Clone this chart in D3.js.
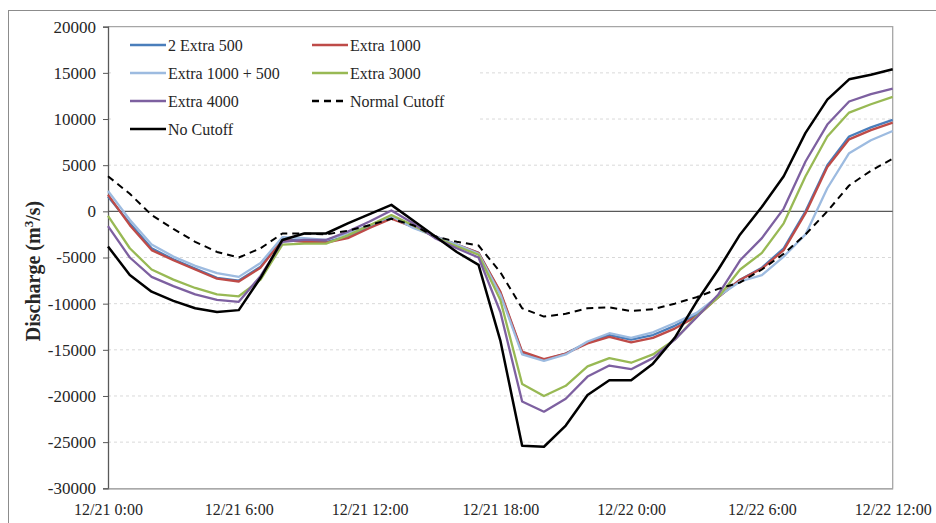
<!DOCTYPE html>
<html>
<head>
<meta charset="utf-8">
<script src="https://cdn.jsdelivr.net/npm/d3@7"></script>
<style>
  body { margin: 0; background: #fff; }
  svg { display: block; }
  text { font-family: "Liberation Serif", "Times New Roman", serif; fill: #262626; }
</style>
</head>
<body>
<svg id="chart" width="936" height="523"></svg>
<script>
// Hours since 12/21 0:00, one sample per hour
const hours = [0,1,2,3,4,5,6,7,8,9,10,11,12,13,14,15,16,17,18,19,20,21,22,23,24,25,26,27,28,29,30,31,32,33,34,35,36];

const extra500x2 = [1600,-1300,-4000,-5200,-6200,-7200,-7500,-6000,-3000,-3200,-3300,-2700,-1700,-700,-1700,-2700,-3600,-4500,-8800,-15300,-16100,-15400,-14200,-13400,-13900,-13400,-12400,-11200,-9300,-7400,-6100,-4000,0,5000,8100,9100,9900];
const extra1000 = [1800,-1500,-4200,-5300,-6300,-7300,-7600,-6100,-3100,-3300,-3400,-2900,-1800,-800,-1700,-2700,-3600,-4500,-8700,-15200,-16000,-15400,-14300,-13600,-14200,-13700,-12700,-11400,-9300,-7400,-6200,-4200,-200,4800,7800,8800,9600];
const extra1000p500 = [2200,-900,-3600,-4900,-5900,-6700,-7100,-5600,-2800,-2900,-3100,-2400,-1500,-500,-1800,-2700,-3600,-4600,-9000,-15500,-16200,-15500,-14100,-13200,-13700,-13100,-12100,-11000,-9200,-7600,-6900,-4900,-2500,2500,6300,7700,8700];
const extra3000 = [-500,-4000,-6300,-7400,-8300,-9000,-9200,-7400,-3600,-3500,-3500,-2600,-1500,-400,-1500,-2800,-3800,-4700,-9600,-18700,-20000,-18900,-16800,-15900,-16400,-15500,-13900,-11400,-9300,-6300,-4500,-1300,3800,8100,10700,11600,12400];
const extra4000 = [-1600,-5000,-7100,-8100,-9000,-9600,-9800,-7000,-3300,-3100,-3100,-2200,-1100,100,-1300,-2900,-4000,-5000,-10900,-20600,-21700,-20300,-17900,-16700,-17100,-15900,-13900,-11500,-9000,-5300,-2900,300,5400,9400,11900,12700,13300];
const normalCutoff = [3800,1900,-400,-1900,-3300,-4400,-5000,-4000,-2400,-2400,-2500,-2100,-1500,-800,-1500,-2700,-3300,-3700,-6600,-10500,-11400,-11100,-10500,-10400,-10800,-10600,-10000,-9300,-8400,-7700,-6300,-4600,-2500,0,2800,4400,5700];
const noCutoff = [-3800,-6900,-8700,-9700,-10500,-10900,-10700,-7200,-3100,-2400,-2400,-1300,-300,700,-1000,-2700,-4400,-5800,-14000,-25400,-25500,-23200,-19900,-18300,-18300,-16500,-13700,-9800,-6300,-2500,500,3800,8500,12100,14300,14800,15400];

const xTickHours = [0,6,12,18,24,30,36];
const xTickLabels = ["12/21 0:00","12/21 6:00","12/21 12:00","12/21 18:00","12/22 0:00","12/22 6:00","12/22 12:00"];
const yTicks = [-30000,-25000,-20000,-15000,-10000,-5000,0,5000,10000,15000,20000];

const seriesNames = ["2 Extra 500","Extra 1000","Extra 1000 + 500","Extra 3000","Extra 4000","Normal Cutoff","No Cutoff"];
const seriesValues = [extra500x2, extra1000, extra1000p500, extra3000, extra4000, normalCutoff, noCutoff];
const seriesColors = ["#4a7ebb","#be4b48","#9dbbe0","#98b954","#7d60a0","#000000","#000000"];
const seriesWidths = [2.3,2.3,2.3,2.3,2.3,2,2.5];
const seriesDash = [null,null,null,null,null,"7,5",null];

const svg = d3.select("#chart");
const plotLeft = 108, plotRight = 892.7, plotTop = 26.7, plotBottom = 488.3;

const x = d3.scaleLinear().domain([0, 36]).range([plotLeft, plotRight]);
const y = d3.scaleLinear().domain([-30000, 20000]).range([plotBottom, plotTop]);

// Outer frame
svg.append("rect").attr("x", 8.5).attr("y", 10.5).attr("width", 1000).attr("height", 1000)
  .attr("fill", "none").attr("stroke", "#8c8c8c").attr("stroke-width", 1);

// Horizontal gridlines
svg.append("g").selectAll("line")
  .data(yTicks.filter(v => v !== 0 && v !== 20000 && v !== -30000))
  .join("line")
  .attr("x1", plotLeft).attr("x2", plotRight)
  .attr("y1", d => y(d)).attr("y2", d => y(d))
  .attr("stroke", "#d9d9d9").attr("stroke-width", 1).attr("stroke-dasharray", "3,3");

// Plot frame (top and right)
svg.append("path")
  .attr("d", `M${plotLeft},${plotTop}H${plotRight}V${plotBottom}`)
  .attr("fill", "none").attr("stroke", "#a6a6a6").attr("stroke-width", 1.3);

// Legend background (covers the gridlines behind it)
svg.append("rect").attr("x", 112).attr("y", 30).attr("width", 365).attr("height", 118).attr("fill", "#fff");

// Zero line
svg.append("line").attr("x1", plotLeft).attr("x2", plotRight).attr("y1", y(0)).attr("y2", y(0))
  .attr("stroke", "#595959").attr("stroke-width", 1.2);

// Y axis
const yAxis = d3.axisLeft(y).tickValues(yTicks).tickSize(5).tickPadding(7).tickFormat(d3.format("d"));
const gy = svg.append("g").attr("transform", `translate(${plotLeft},0)`).call(yAxis);
gy.select(".domain").attr("stroke", "#595959").attr("stroke-width", 1.3);
gy.selectAll(".tick line").attr("stroke", "#595959");
gy.selectAll(".tick text").attr("font-size", "17px").attr("fill", "#262626")
  .attr("font-family", "'Liberation Serif', serif").text(d => d);

// X axis
const xAxis = d3.axisBottom(x).tickValues(xTickHours).tickSize(0).tickPadding(15)
  .tickFormat((d, i) => xTickLabels[i]);
const gx = svg.append("g").attr("transform", `translate(0,${plotBottom})`).call(xAxis);
gx.select(".domain").attr("stroke", "#8c8c8c").attr("stroke-width", 1.3);
gx.selectAll(".tick text").attr("font-size", "16px").attr("fill", "#262626")
  .attr("font-family", "'Liberation Serif', serif");

// Y axis title
const yTitle = svg.append("text")
  .attr("transform", `translate(40,271) rotate(-90)`)
  .attr("text-anchor", "middle")
  .attr("font-size", "20px").attr("font-weight", "bold");
yTitle.append("tspan").text("Discharge (m");
yTitle.append("tspan").attr("baseline-shift", "super").attr("font-size", "13px").text("3");
yTitle.append("tspan").text("/s)");

// Series lines
const line = d3.line().x((d, i) => x(hours[i])).y(d => y(d));
const gLines = svg.append("g").attr("fill", "none").attr("stroke-linejoin", "round");
seriesValues.forEach((vals, k) => {
  gLines.append("path")
    .attr("d", line(vals))
    .attr("stroke", seriesColors[k])
    .attr("stroke-width", seriesWidths[k])
    .attr("stroke-dasharray", seriesDash[k]);
});

// Legend
const legendCols = [130, 312];
const legendRows = [45, 73, 101, 129];
const gLeg = svg.append("g");
seriesNames.forEach((name, k) => {
  const cx = legendCols[k % 2];
  const cy = legendRows[Math.floor(k / 2)];
  gLeg.append("line")
    .attr("x1", cx).attr("x2", cx + 36).attr("y1", cy).attr("y2", cy)
    .attr("stroke", seriesColors[k]).attr("stroke-width", 2.6)
    .attr("stroke-dasharray", seriesDash[k]);
  gLeg.append("text")
    .attr("x", cx + 38).attr("y", cy).attr("dy", "0.35em")
    .attr("font-size", "16px").text(name);
});
</script>
</body>
</html>
